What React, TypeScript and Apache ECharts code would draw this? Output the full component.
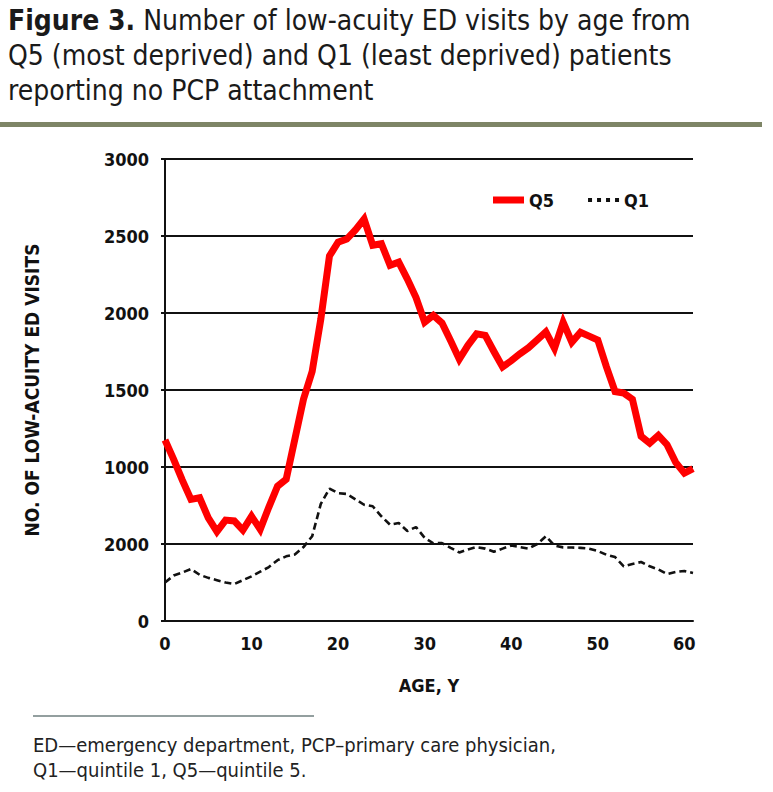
import React, { useEffect, useRef } from "react";
import * as echarts from "echarts";

const ages: number[] = Array.from({ length: 62 }, (_, i) => i);

const q5: number[] = [
  1175, 1050, 915, 790, 800, 670, 580, 655, 650, 590,
  680, 595, 740, 875, 920, 1180, 1440, 1620, 1960, 2370,
  2460, 2480, 2540, 2610, 2440, 2450, 2310, 2330, 2220, 2100,
  1940, 1985, 1935, 1820, 1700, 1790, 1865, 1855, 1750, 1650,
  1690, 1735, 1775, 1825, 1877, 1770, 1940, 1810, 1875, 1850,
  1825, 1650, 1490, 1480, 1440, 1200, 1155, 1205, 1145, 1030,
  960, 990,
];

const q1: number[] = [
  250, 295, 315, 338, 300, 280, 265, 250, 240, 265,
  290, 320, 350, 395, 420, 432, 480, 550, 760, 860,
  830, 825, 790, 755, 745, 680, 625, 636, 584, 610,
  540, 505, 506, 475, 445, 465, 480, 470, 450, 470,
  490, 480, 470, 500, 550, 490, 478, 477, 475, 470,
  455, 430, 415, 355, 370, 383, 355, 335, 305, 318,
  325, 312,
];

const yTickValues: number[] = [0, 500, 1000, 1500, 2000, 2500, 3000];
const yTickLabels: string[] = ["0", "2000", "1000", "1500", "2000", "2500", "3000"];

const titleLines: string[] = [
  "Number of low-acuity ED visits by age from",
  "Q5 (most deprived) and Q1 (least deprived) patients",
  "reporting no PCP attachment",
];
const footnoteLines: string[] = [
  "ED\u2014emergency department, PCP\u2013primary care physician,",
  "Q1\u2014quintile 1, Q5\u2014quintile 5.",
];

const FONT = '"Liberation Sans Narrow", "DejaVu Sans Condensed", "Roboto Condensed", "Noto Sans", sans-serif';

export default function App() {
  const ref = useRef<HTMLDivElement>(null);
  useEffect(() => {
    if (!ref.current) return;
    const chart = echarts.init(ref.current, null, { renderer: "svg" });
    const option: any = {
      animation: false,
      backgroundColor: "#ffffff",
      textStyle: { fontFamily: FONT },
      grid: { left: 165, right: 80, top: 159, bottom: 171, containLabel: false },
      legend: {
        left: 488,
        top: 186,
        itemWidth: 31,
        itemHeight: 7,
        itemGap: 34,
        symbolKeepAspect: true,
        textStyle: { fontFamily: FONT, fontWeight: "bold", fontSize: 18, color: "#111" },
        data: [
          { name: "Q5", icon: "path://M0,0h31v7h-31z", itemStyle: { color: "#ff0000" } },
          {
            name: "Q1",
            icon: "path://M0,0h4v4h-4zM9,0h4v4h-4zM18,0h4v4h-4zM27,0h4v4h-4z",
            itemStyle: { color: "#111" },
          },
        ],
      },
      xAxis: {
        type: "value",
        min: 0,
        max: 61,
        interval: 10,
        name: "AGE, Y",
        nameLocation: "middle",
        nameGap: 55,
        nameTextStyle: { fontFamily: FONT, fontWeight: "bold", fontSize: 18, color: "#111" },
        axisLine: { show: true, onZero: false, lineStyle: { color: "#111", width: 2 } },
        axisTick: { show: false },
        splitLine: { show: false },
        axisLabel: {
          margin: 13,
          fontFamily: FONT,
          fontWeight: "bold",
          fontSize: 18,
          color: "#111",
          formatter: (v: number) => (v % 10 === 0 ? String(v) : ""),
        },
      },
      yAxis: {
        type: "value",
        min: 0,
        max: 3000,
        interval: 500,
        name: "NO. OF LOW-ACUITY ED VISITS",
        nameLocation: "middle",
        nameGap: 124,
        nameRotate: 90,
        nameTextStyle: { fontFamily: FONT, fontWeight: "bold", fontSize: 19, color: "#111" },
        axisLine: { show: true, lineStyle: { color: "#111", width: 2 } },
        axisTick: { show: true, length: 4, lineStyle: { color: "#111", width: 2 } },
        splitLine: { show: true, lineStyle: { color: "#111", width: 2 } },
        axisLabel: {
          margin: 16,
          fontFamily: FONT,
          fontWeight: "bold",
          fontSize: 18,
          color: "#111",
          formatter: (v: number) => {
            const i = yTickValues.indexOf(v);
            return i >= 0 ? yTickLabels[i] : "";
          },
        },
      },
      series: [
        {
          name: "Q5",
          type: "line",
          data: ages.map((a, i) => [a, q5[i]]),
          symbol: "none",
          lineStyle: { color: "#ff0000", width: 7, join: "miter" },
          itemStyle: { color: "#ff0000" },
          z: 3,
        },
        {
          name: "Q1",
          type: "line",
          data: ages.map((a, i) => [a, q1[i]]),
          symbol: "none",
          lineStyle: { color: "#111", width: 2.6, type: [7, 4] },
          itemStyle: { color: "#111" },
          z: 2,
        },
      ],
      graphic: [
        {
          type: "text",
          left: 8,
          top: 6,
          style: {
            text: "{b|Figure 3.} " + titleLines[0],
            fill: "#1a1a1a",
            font: `28px ${FONT}`,
            rich: { b: { fontWeight: "bold", fontSize: 28, fontFamily: FONT, fill: "#1a1a1a" } },
          },
        },
        {
          type: "text",
          left: 8,
          top: 41,
          style: { text: titleLines[1], fill: "#1a1a1a", font: `28px ${FONT}` },
        },
        {
          type: "text",
          left: 8,
          top: 76,
          style: { text: titleLines[2], fill: "#1a1a1a", font: `28px ${FONT}` },
        },
        {
          type: "rect",
          shape: { x: 0, y: 122, width: 762, height: 5 },
          style: { fill: "#7e8566" },
        },
        {
          type: "line",
          shape: { x1: 33, y1: 716, x2: 314, y2: 716 },
          style: { stroke: "#6f7f7f", lineWidth: 1.5 },
        },
        {
          type: "text",
          left: 33,
          top: 735,
          style: { text: footnoteLines[0], fill: "#222", font: `20px ${FONT}` },
        },
        {
          type: "text",
          left: 33,
          top: 760,
          style: { text: footnoteLines[1], fill: "#222", font: `20px ${FONT}` },
        },
      ],
    };
    chart.setOption(option);
    return () => chart.dispose();
  }, []);
  return (
    <div
      ref={ref}
      style={{ position: "absolute", left: 0, top: 0, width: 773, height: 792 }}
    />
  );
}
